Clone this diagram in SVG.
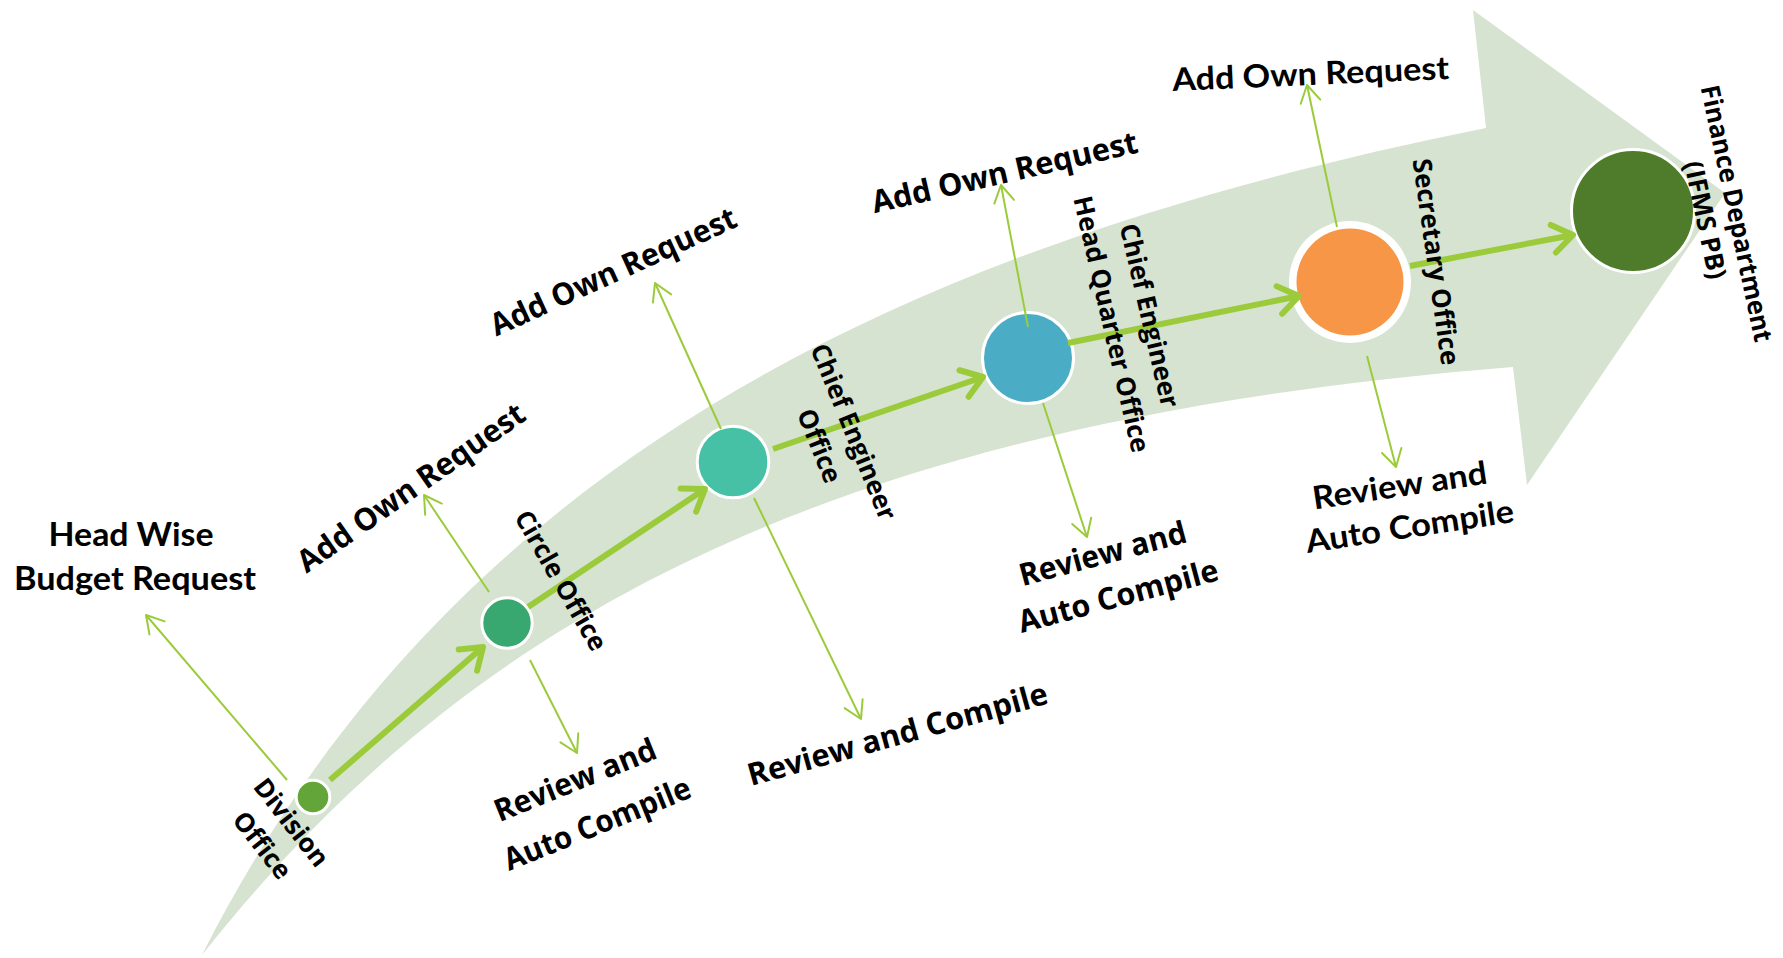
<svg xmlns="http://www.w3.org/2000/svg" width="1783" height="958" viewBox="0 0 1783 958">
<defs>
<style>
.t{font-family:"Open Sans","DejaVu Sans",sans-serif;font-weight:700;fill:#000}
.c{font-family:Lato,"Liberation Sans",sans-serif;font-weight:700;fill:#000}
.n{font-family:"Open Sans","DejaVu Sans",sans-serif;font-weight:700;font-size:26px;fill:#000}
.thick{stroke:#9BCB3B;stroke-width:6;fill:none;marker-end:url(#ah)}
.thin{stroke:#9BCB3B;stroke-width:2;fill:none;marker-end:url(#at)}
.ring{stroke:#fff;stroke-width:3}
</style>
<marker id="ah" markerUnits="userSpaceOnUse" viewBox="-30 -20 40 40" markerWidth="40" markerHeight="40" refX="0" refY="0" orient="auto" overflow="visible">
<path d="M-20,-14 L0,0 L-20,14" fill="none" stroke="#9BCB3B" stroke-width="6" stroke-linecap="round" stroke-linejoin="round"/>
</marker>
<marker id="at" markerUnits="userSpaceOnUse" viewBox="-30 -20 40 40" markerWidth="40" markerHeight="40" refX="0" refY="0" orient="auto" overflow="visible">
<path d="M-17,-10 L0,0 L-17,10" fill="none" stroke="#9BCB3B" stroke-width="2" stroke-linecap="round" stroke-linejoin="round"/>
</marker>
</defs>
<rect width="1783" height="958" fill="#fff"/>
<path id="band" d="M202,955 C449.5,465.5 898,246 1486,128 L1473,10 L1725,193 L1527,485 L1513,367 C813,423 462,627 202,955 Z" fill="#D6E3D0"/>

<g id="node-division"><circle cx="313" cy="797" r="16.8" fill="#63A539" class="ring"/></g>
<g id="node-circle"><circle cx="507" cy="623" r="25.2" fill="#38A870" class="ring"/></g>
<g id="node-ce"><circle cx="733" cy="462" r="35.8" fill="#46C1A5" class="ring"/></g>
<g id="node-cehq"><circle cx="1028" cy="358" r="45.5" fill="#4BACC6" class="ring"/></g>
<g id="node-secretary"><circle cx="1350" cy="282" r="61" fill="#fff"/><circle cx="1350" cy="282" r="53.5" fill="#F79646"/></g>
<g id="node-finance"><circle cx="1633" cy="211" r="61.5" fill="#4E7C2A" class="ring"/></g>

<g id="connectors">
<line class="thick" x1="330" y1="780" x2="483" y2="647"/>
<line class="thick" x1="528" y1="607" x2="705" y2="489"/>
<line class="thick" x1="773" y1="449" x2="983" y2="377"/>
<line class="thick" x1="1068" y1="343" x2="1299" y2="296"/>
<line class="thick" x1="1410" y1="266" x2="1573" y2="235"/>
<line class="thin" x1="287" y1="780" x2="146" y2="615"/>
<line class="thin" x1="489" y1="592" x2="424" y2="495"/>
<line class="thin" x1="530" y1="660" x2="577" y2="753"/>
<line class="thin" x1="721" y1="429" x2="655" y2="283"/>
<line class="thin" x1="754" y1="498" x2="861" y2="719"/>
<line class="thin" x1="1028" y1="327" x2="1001" y2="185"/>
<line class="thin" x1="1043" y1="403" x2="1087" y2="537"/>
<line class="thin" x1="1337" y1="227" x2="1307" y2="85"/>
<line class="thin" x1="1367" y1="356" x2="1396" y2="467"/>
</g>

<g id="label-division" class="n" text-anchor="middle" transform="translate(276,834.5) rotate(52)">
<text x="0" y="-10.5">Division</text>
<text x="0" y="26.5">Office</text>
</g>
<g id="label-circle" class="n" text-anchor="middle" transform="translate(560,581) rotate(60)">
<text x="0" y="8">Circle Office</text>
</g>
<g id="label-ce" class="n" text-anchor="middle" transform="translate(836,439) rotate(68)">
<text x="0" y="-10">Chief Engineer</text>
<text x="0" y="27">Office</text>
</g>
<g id="label-cehq" class="n" text-anchor="middle" transform="translate(1130,320) rotate(77)">
<text x="0" y="-11">Chief Engineer</text>
<text x="0" y="28">Head Quarter Office</text>
</g>
<g id="label-secretary" class="n" text-anchor="middle" transform="translate(1435,262) rotate(82)">
<text x="0" y="8">Secretary Office</text>
</g>
<g id="label-finance" class="n" text-anchor="middle" transform="translate(1720,217) rotate(78)">
<text x="0" y="-8" textLength="262" lengthAdjust="spacingAndGlyphs">Finance Department</text>
<text x="0" y="24">(IFMS PB)</text>
</g>

<g id="label-headwise" class="c" font-size="32" text-anchor="middle">
<text x="131" y="546" textLength="165" lengthAdjust="spacingAndGlyphs">Head Wise</text>
<text x="135" y="590" textLength="242" lengthAdjust="spacingAndGlyphs">Budget Request</text>
</g>
<g id="label-add1" class="t" font-size="31" text-anchor="middle" transform="translate(412,489) rotate(-35)">
<text x="0" y="9" textLength="270" lengthAdjust="spacingAndGlyphs">Add Own Request</text>
</g>
<g id="label-add2" class="t" font-size="31" text-anchor="middle" transform="translate(614,273) rotate(-24.5)">
<text x="0" y="9" textLength="267" lengthAdjust="spacingAndGlyphs">Add Own Request</text>
</g>
<g id="label-add3" class="t" font-size="31" text-anchor="middle" transform="translate(1005,174) rotate(-13)">
<text x="0" y="9" textLength="272" lengthAdjust="spacingAndGlyphs">Add Own Request</text>
</g>
<g id="label-add4" class="c" font-size="32" text-anchor="middle" transform="translate(1311,85) rotate(-2.5)">
<text x="0" y="0" textLength="277" lengthAdjust="spacingAndGlyphs">Add Own Request</text>
</g>
<g id="label-review1" class="t" font-size="31" text-anchor="middle" transform="translate(587,804) rotate(-22)">
<text x="-2" y="-16" textLength="172" lengthAdjust="spacingAndGlyphs">Review and</text>
<text x="2" y="33" textLength="199" lengthAdjust="spacingAndGlyphs">Auto Compile</text>
</g>
<g id="label-review-ce" class="t" font-size="31" text-anchor="middle" transform="translate(898,736) rotate(-15.5)">
<text x="0" y="9" textLength="310" lengthAdjust="spacingAndGlyphs">Review and Compile</text>
</g>
<g id="label-review2" class="t" font-size="31" text-anchor="middle" transform="translate(1111,577) rotate(-15)">
<text x="-2" y="-14" textLength="172" lengthAdjust="spacingAndGlyphs">Review and</text>
<text x="2" y="31" textLength="206" lengthAdjust="spacingAndGlyphs">Auto Compile</text>
</g>
<g id="label-review3" class="c" font-size="32" text-anchor="middle" transform="translate(1405,508) rotate(-8.5)">
<text x="-2" y="-12" textLength="176" lengthAdjust="spacingAndGlyphs">Review and</text>
<text x="2" y="30" textLength="210" lengthAdjust="spacingAndGlyphs">Auto Compile</text>
</g>
</svg>
